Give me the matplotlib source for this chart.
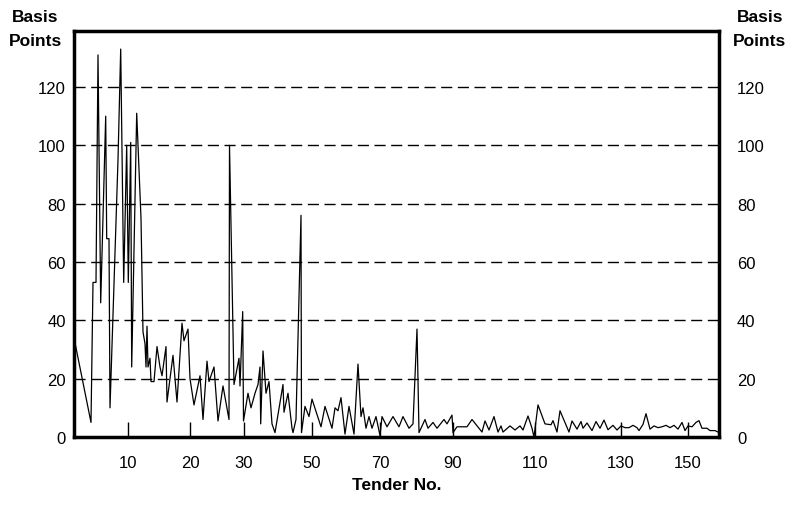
import matplotlib
matplotlib.use("Agg")
import matplotlib.pyplot as plt

plt.rcParams['font.family'] = ['Liberation Sans Narrow', 'Liberation Sans', 'DejaVu Sans']

# position along the axis (left edge = 0, right edge = 645) and spread in basis points
pos = [0, 17, 19, 22, 24, 26.7, 31.7, 32.7, 35, 36,
       44, 46.7, 49.7, 52.7, 54.3, 56.7, 57.7, 62.7, 67, 69,
       71, 72, 73, 74, 76, 77, 80, 83, 86, 88,
       92, 93, 99, 103, 108, 110, 114, 116,
       120, 126, 129, 133, 135, 140, 144, 149, 155, 155.5,
       160, 165, 166, 168.7, 169.5, 174, 177, 181, 184, 186,
       186.7, 189, 192, 195, 198, 201, 209, 210, 214, 218,
       219, 222, 227, 227.5, 231, 235, 238, 247,
       251, 258, 261, 264, 267, 271, 275, 280, 284, 287,
       289, 292, 295, 298, 302, 306, 308, 313, 319, 325,
       329, 335, 339, 343, 345, 351, 354, 359, 363, 370,
       373, 378, 379, 383, 393, 398, 408, 411, 415, 420,
       424, 427, 429, 436, 441, 446, 449, 454, 458, 460,
       464, 471, 477, 479, 483, 486, 495, 498, 503, 507,
       509, 513, 518, 522, 526, 530, 534, 539, 543, 547,
       551, 555, 559, 563, 565, 569, 572, 576, 580, 584,
       588, 592, 596, 600, 604, 608, 611, 614, 618, 622,
       625, 628, 633, 636, 641, 644]
bp = [34, 5, 53, 53, 131, 46, 110, 68, 68, 10,
      95, 133, 53, 100, 53, 101, 24, 111, 75, 36,
      32, 24, 38, 24, 27, 19, 19, 31, 24, 21,
      31, 12, 28, 12, 39, 33, 37, 20,
      11, 21, 6, 26, 19, 24, 5.5, 17.5, 6, 100,
      18, 27, 17.5, 43, 5.5, 15, 10, 15, 18, 24,
      4.5, 29.5, 15, 19, 4.5, 1.5, 18, 8.5, 15, 3,
      1.5, 6, 76, 1.5, 10.5, 7, 13, 3.5,
      10.5, 3, 10, 9, 13.5, 1, 10.5, 1, 25, 7,
      10, 3, 7, 3, 7, 0.5, 7, 3.5, 7, 3.5,
      7, 3, 4.5, 37, 1.5, 6, 3, 5, 3, 6,
      4.5, 7.5, 1.5, 3.5, 3.5, 6, 1.7, 5.5, 2.4, 7,
      1.7, 3.8, 1.7, 3.8, 2.4, 3.8, 2.4, 7.2, 3, 0,
      11, 4.5, 4.2, 5.6, 1.7, 9, 1.7, 5.5, 2.7, 5.3,
      3, 4.8, 2.2, 5.3, 3, 5.8, 2.5, 4, 2.4, 3.8,
      3.2, 3.2, 4, 3.2, 2.2, 4.3, 8, 2.7, 3.8, 3.2,
      3.5, 4, 3.2, 4, 2.7, 5, 2.2, 3.8, 3.5, 5,
      5.6, 3, 3, 2.2, 2.2, 1.7]

tender_pos = [54, 116, 170, 238, 306, 379, 461, 547, 614]
tender_lab = ['10', '20', '30', '50', '70', '90', '110', '130', '150']
y_ticks = [0, 20, 40, 60, 80, 100, 120]

fig = plt.figure(figsize=(7.89, 5.10), dpi=100)
ax = fig.add_axes([74/789, 72/510, 645/789, 406/510])

# dashed gridlines
for g in y_ticks[1:]:
    ax.axhline(g, color='black', lw=1, linestyle=(0, (8, 4)), zorder=1)
ax.plot(pos, bp, color='black', lw=0.9, zorder=2)

ax.set_xlim(0, 645)
ax.set_ylim(0, 139.2)
ax.set_xticks(tender_pos)
ax.set_xticklabels(tender_lab)
ax.set_yticks(y_ticks)
ax.tick_params(axis='x', direction='in', length=11, width=1, pad=13, labelsize=12)
ax.tick_params(axis='y', length=0, pad=6, labelsize=12)
for s in ax.spines.values():
    s.set_linewidth(2.5)

# right side labels
ax2 = ax.twinx()
ax2.set_ylim(ax.get_ylim())
ax2.set_yticks(y_ticks)
ax2.tick_params(axis='y', length=0, pad=13, labelsize=12)
for s in ax2.spines.values():
    s.set_visible(False)

fig.text(35/789, 1 - 18/510, 'Basis', ha='center', va='center', fontsize=12.5, fontweight='bold')
fig.text(35/789, 1 - 42/510, 'Points', ha='center', va='center', fontsize=12.5, fontweight='bold')
fig.text(760/789, 1 - 18/510, 'Basis', ha='center', va='center', fontsize=12.5, fontweight='bold')
fig.text(760/789, 1 - 42/510, 'Points', ha='center', va='center', fontsize=12.5, fontweight='bold')
fig.text(397/789, 1 - 486/510, 'Tender No.', ha='center', va='center', fontsize=12.5, fontweight='bold')

fig.savefig('out.png', dpi=100)
